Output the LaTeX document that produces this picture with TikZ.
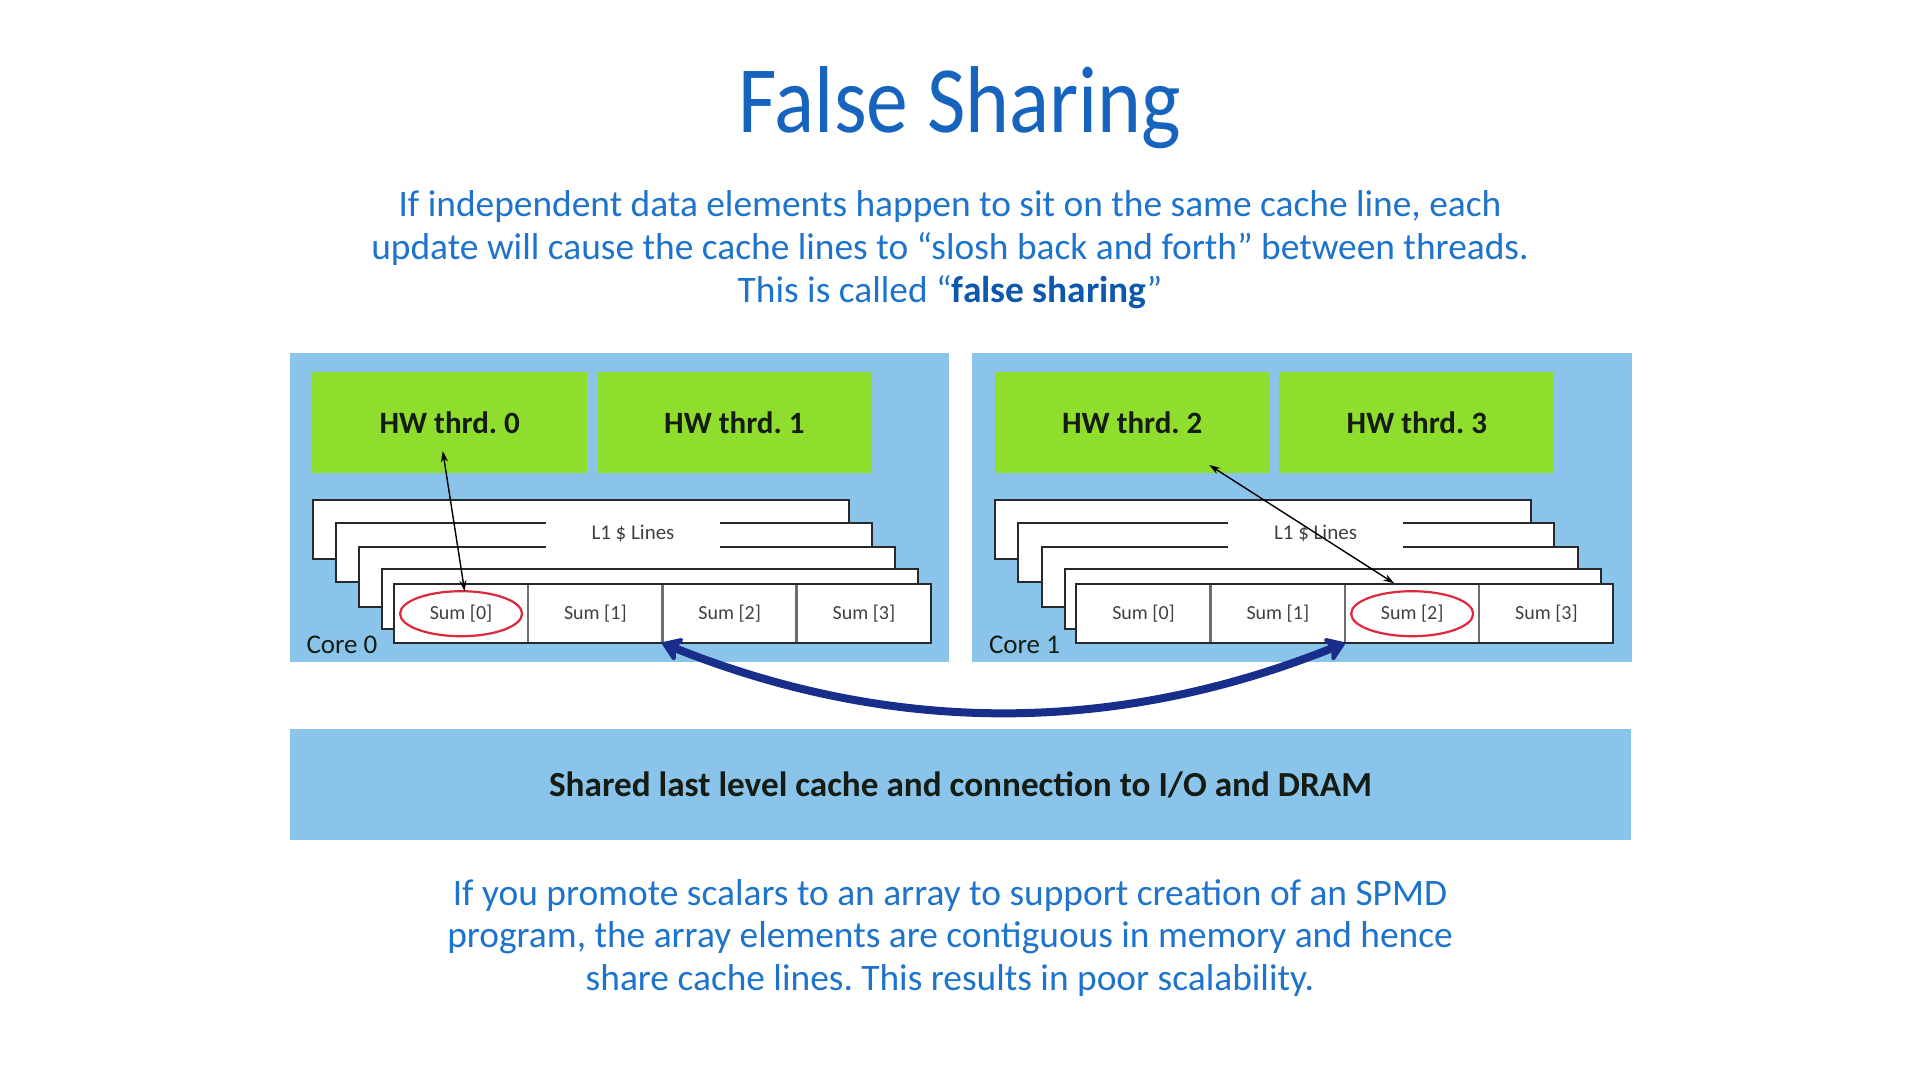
\documentclass[tikz,border=0pt]{standalone}
\usepackage{fontspec}
\setmainfont{Carlito}
\usetikzlibrary{arrows.meta,calc}
\frenchspacing

\definecolor{corebg}{RGB}{138,196,234}
\definecolor{thrdgreen}{RGB}{143,221,45}
\definecolor{titleblue}{RGB}{22,100,190}
\definecolor{textblue}{RGB}{30,115,205}
\definecolor{boldblue}{RGB}{12,88,175}
\definecolor{navy}{RGB}{24,46,138}
\definecolor{outline}{RGB}{40,40,40}
\definecolor{divider}{RGB}{110,110,110}
\definecolor{ringred}{RGB}{222,40,60}
\definecolor{inktext}{RGB}{20,28,20}

\tikzset{
  corebox/.style={fill=corebg, draw=none},
  thrdbox/.style={fill=thrdgreen, draw=none, inner sep=0pt,
    minimum width=275pt, minimum height=101pt,
    font=\fontsize{31}{31}\selectfont\bfseries, text=inktext},
  linebox/.style={fill=white, draw=outline, line width=2pt},
  sumcell/.style={draw=none, inner sep=0pt, minimum width=134.3pt,
    minimum height=58.4pt, font=\fontsize{20}{20}\selectfont, text=black!75},
  celldiv/.style={draw=divider, line width=2.5pt},
  ring/.style={draw=ringred, line width=2.2pt},
  linkarrow/.style={draw=black, line width=1.4pt,
    {Stealth[length=11pt,width=7pt]}-{Stealth[length=11pt,width=7pt]}},
  bigarrow/.style={draw=navy, line width=8pt, line cap=round,
    {Stealth[length=22pt,width=30pt,inset=6pt,round]}-{Stealth[length=22pt,width=30pt,inset=6pt,round]}},
  para/.style={anchor=base, text=textblue, font=\fontsize{37.4}{42}\selectfont},
  corelabel/.style={anchor=base west, text=inktext, font=\fontsize{27}{27}\selectfont},
}

\begin{document}
\begin{tikzpicture}[x=1pt,y=-1pt]
\useasboundingbox[fill=white] (0,0) rectangle (1920,1080);

% title and introduction
\node (title) [anchor=base, text=titleblue, font=\fontsize{95}{95}\selectfont]
  at (960,132) {\scalebox{0.88}[1]{False Sharing}};
\node (intro1) [para] at (950,216.5) {If independent data elements happen to sit on the same cache line, each};
\node (intro2) [para] at (950,259.5) {update will cause the cache lines to “slosh back and forth” between threads.};
\node (intro3) [para] at (950,302.5) {This is called “\textcolor{boldblue}{\bfseries false sharing}”};

% two cores, each with two hardware threads and a stack of L1 cache lines
\foreach \c/\dx in {0/0,1/682.5} {
  \pgfmathtruncatemacro\ta{2*\c}
  \pgfmathtruncatemacro\tb{2*\c+1}
  \begin{scope}[xshift=\dx]
    \fill[corebox] (289.5,352.7) rectangle (949,662);
    \node (t\ta) [thrdbox] at (449.75,422.3) {HW thrd. \ta};
    \node (t\tb) [thrdbox] at (734.35,422.3) {HW thrd. \tb};
    % cache lines stacked from back to front
    \draw[linebox] (312.5,500) rectangle +(536,59);
    \draw[linebox] (335.5,522.7) rectangle +(536,59);
    \draw[linebox] (359,546.7) rectangle +(536,60);
    \fill[white] (545.5,512) rectangle (720.3,552);
    \node (l1\c) [font=\fontsize{21}{21}\selectfont, text=black!75] at (633,533) {L1 \$ Lines};
    \draw[linebox] (382.4,569.3) rectangle +(536,60);
    \draw[linebox] (393.7,584.3) rectangle +(537,58.4);
    \foreach \k in {0,...,3} {
      \node (s\c\k) [sumcell, anchor=north west] at ({393.7+134.3*\k},584.3) {Sum [\k]};
    }
    \foreach \k in {1,2,3} {
      \draw[celldiv] (s\c\k.north west) -- (s\c\k.south west);
    }
    \draw[outline, line width=2pt] (393.7,584.3) rectangle +(537,58.4);
    \node (core\c) [corelabel] at (303,653) {Core \c};
  \end{scope}
}

% the element each thread writes
\draw[ring] (s00.center) ellipse [x radius=61pt, y radius=22.5pt];
\draw[ring] (s12.center) ellipse [x radius=61pt, y radius=22.5pt];

% thread-to-element links
\coordinate (p0) at ($(t0.south)+(-7,-22)$);
\coordinate (q0) at ($(s00.north)+(3.6,7)$);
\draw[linkarrow] (p0) -- (q0);
\coordinate (p1) at ($(t2.south)+(77,-8)$);
\coordinate (q1) at ($(s12.north)+(-18,-1)$);
\draw[linkarrow] (p1) -- (q1);

% cache line moving between the cores
\draw[bigarrow] (s02.south west) .. controls +(230,92) and +(-230,92) .. (s12.south west);

% shared level
\node (llc) [fill=corebg, inner sep=0pt, minimum width=1341pt, minimum height=111pt,
  font=\fontsize{35.2}{35.2}\selectfont\bfseries, text=inktext] at (960.5,784.5)
  {Shared last level cache and connection to I/O and DRAM};

% closing remark
\node (note1) [para] at (950,905) {If you promote scalars to an array to support creation of an SPMD};
\node (note2) [para] at (950,947.5) {program, the array elements are contiguous in memory and hence};
\node (note3) [para] at (950,990) {share cache lines. This results in poor scalability.};
\end{tikzpicture}
\end{document}
